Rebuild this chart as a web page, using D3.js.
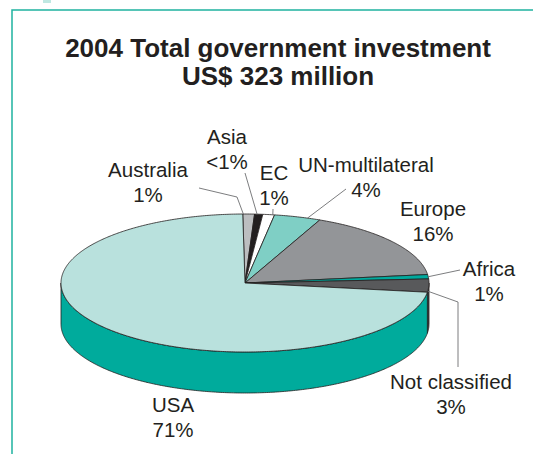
<!DOCTYPE html>
<html>
<head>
<meta charset="utf-8">
<script src="https://cdn.jsdelivr.net/npm/d3@7"></script>
<style>
  html, body { margin: 0; padding: 0; background: #fff; }
  svg { display: block; }
  text { font-family: "Liberation Sans", Arial, Helvetica, sans-serif; fill: #231f20; }
</style>
</head>
<body>
<svg id="chart" width="533" height="454"></svg>
<script>
// Government investment by source, 2004 (share of total, %)
const regions = ["Australia", "Asia", "EC", "UN-multilateral", "Europe", "Africa", "Not classified", "USA"];
const shares = [1, 0.7, 1, 4, 16, 1, 3, 71];
const shareLabels = ["1%", "<1%", "1%", "4%", "16%", "1%", "3%", "71%"];
const titleLines = ["2004 Total government investment", "US$ 323 million"];

// Slice fills: top face and cylinder wall
const topColors  = ["#bcbec0", "#231f20", "#ffffff", "#7fcfc5", "#939598", "#00a99d", "#58595b", "#b9e1dd"];
const sideColors = ["#9d9fa2", "#111", "#e6e6e6", "#5fb8ad", "#77787b", "#008f84", "#3c3c3e", "#00ab9c"];

// Label placement: text centre, first baseline, leader elbow points, and
// where along the slice (0..1) the leader touches the rim
const labelLayout = [
  { x: 148, y: 177, leader: [[199, 188], [237, 197]], t: 0.05 },
  { x: 227, y: 144, leader: [[245, 173]], t: 0.3 },
  { x: 274, y: 180, leader: [[273, 209]], t: 0.85 },
  { x: 366, y: 172, leader: [[346, 189]], t: 0.72 },
  { x: 433, y: 216, leader: null, t: 0.5 },
  { x: 489, y: 276, leader: [[460, 270]], t: 0.5 },
  { x: 451, y: 389, leader: [[458, 367], [458, 302]], t: 0.92 },
  { x: 173, y: 412, leader: null, t: 0.5 }
];

const svg = d3.select("#chart");

// Frame
svg.append("rect").attr("x", 43).attr("y", 0).attr("width", 8).attr("height", 3).attr("fill", "#bfe8e2");
svg.append("path")
  .attr("d", "M12,454 L12,10 L533,10")
  .attr("fill", "none").attr("stroke", "#1fb3a0").attr("stroke-width", 1.5);

// Title
svg.append("g").selectAll("text").data(titleLines).join("text")
  .attr("x", 278)
  .attr("y", (d, i) => 57 + i * 28)
  .attr("text-anchor", "middle")
  .attr("font-size", 26)
  .attr("font-weight", "bold")
  .text(d => d);

// 3D pie geometry
const cx = 245, cy = 283, rx = 184, ry = 69, depth = 41;
const startDeg = -0.7;

const pie = d3.pie().sort(null).value(d => d.value)
  .startAngle(startDeg * Math.PI / 180)
  .endAngle(startDeg * Math.PI / 180 + 2 * Math.PI);

const data = regions.map((r, i) => ({ region: r, value: shares[i], label: shareLabels[i], i }));
const arcs = pie(data);

const pt = (a, dy = 0) => [cx + rx * Math.sin(a), cy - ry * Math.cos(a) + dy];
const sample = (a0, a1) => {
  const n = Math.max(2, Math.ceil(Math.abs(a1 - a0) / 0.01));
  return d3.range(n + 1).map(k => a0 + (a1 - a0) * k / n);
};

function topPath(a0, a1) {
  const p = d3.path();
  p.moveTo(cx, cy);
  sample(a0, a1).forEach(a => { const q = pt(a); p.lineTo(q[0], q[1]); });
  p.closePath();
  return p.toString();
}

function sidePath(a0, a1) {
  const s = Math.max(a0, Math.PI / 2), e = Math.min(a1, 3 * Math.PI / 2);
  if (e <= s) return null;
  const p = d3.path();
  const fwd = sample(s, e);
  fwd.forEach((a, k) => { const q = pt(a); k ? p.lineTo(q[0], q[1]) : p.moveTo(q[0], q[1]); });
  fwd.slice().reverse().forEach(a => { const q = pt(a, depth); p.lineTo(q[0], q[1]); });
  p.closePath();
  return p.toString();
}

const stroke = "#231f20", sw = 0.8;

// Cylinder walls (front half only)
svg.append("g").selectAll("path")
  .data(arcs.filter(d => sidePath(d.startAngle, d.endAngle)))
  .join("path")
  .attr("d", d => sidePath(d.startAngle, d.endAngle))
  .attr("fill", d => sideColors[d.data.i])
  .attr("stroke", stroke).attr("stroke-width", sw).attr("stroke-linejoin", "round");

// Top faces
svg.append("g").selectAll("path")
  .data(arcs).join("path")
  .attr("d", d => topPath(d.startAngle, d.endAngle))
  .attr("fill", d => topColors[d.data.i])
  .attr("stroke", stroke).attr("stroke-width", sw).attr("stroke-linejoin", "round");

// Leader lines
svg.append("g").selectAll("polyline")
  .data(arcs.filter(d => labelLayout[d.data.i].leader))
  .join("polyline")
  .attr("points", d => {
    const L = labelLayout[d.data.i];
    const a = d.startAngle + (d.endAngle - d.startAngle) * L.t;
    return L.leader.concat([pt(a)]).map(q => q.join(",")).join(" ");
  })
  .attr("fill", "none").attr("stroke", "#6d6e71").attr("stroke-width", 0.9);

// Labels
const lab = svg.append("g").selectAll("text")
  .data(arcs).join("text")
  .attr("text-anchor", "middle")
  .attr("font-size", 20.5);
lab.append("tspan")
  .attr("x", d => labelLayout[d.data.i].x)
  .attr("y", d => labelLayout[d.data.i].y)
  .text(d => d.data.region);
lab.append("tspan")
  .attr("x", d => labelLayout[d.data.i].x)
  .attr("y", d => labelLayout[d.data.i].y + 25)
  .text(d => d.data.label);
</script>
</body>
</html>
